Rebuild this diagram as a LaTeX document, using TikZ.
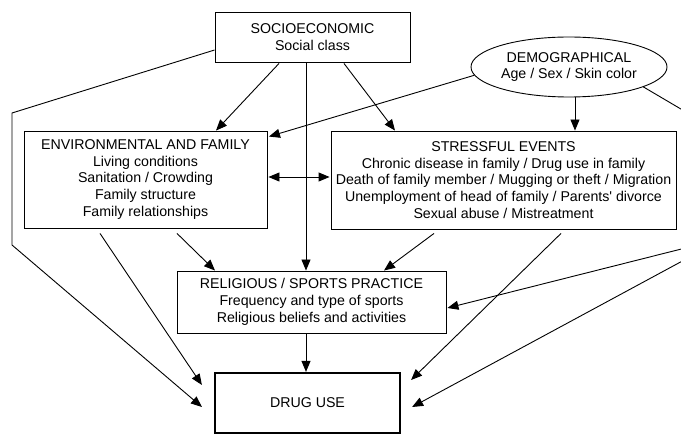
\documentclass[tikz,border=0pt]{standalone}
\usepackage{fontspec}
\setmainfont{Liberation Sans}
\usetikzlibrary{arrows.meta, calc, shapes.geometric}

\tikzset{
  factor/.style={draw, line width=0.9pt, align=center, inner sep=0pt,
    font=\fontsize{14.2}{16.7}\selectfont},
  outcome/.style={factor, line width=2.2pt},
  link/.style={line width=0.9pt, -{Triangle[length=11pt, width=9pt]}},
  bothway/.style={line width=0.9pt,
    {Triangle[length=11pt, width=9pt]}-{Triangle[length=11pt, width=9pt]}},
}

\begin{document}
\begin{tikzpicture}[x=1pt, y=-1pt]

  \useasboundingbox (0, 0) rectangle (681, 435);

  \node[factor, minimum width=195pt, minimum height=50pt] (socio) at (312.5, 37)
    {SOCIOECONOMIC\\Social class};
  \node[factor, ellipse, minimum width=196pt, minimum height=60pt] (demo) at (569, 67)
    {DEMOGRAPHICAL\\Age / Sex / Skin color};
  \node[factor, minimum width=243pt, minimum height=97pt] (env) at (145.5, 179.5)
    {ENVIRONMENTAL AND FAMILY\\Living conditions\\Sanitation / Crowding\\Family structure\\Family relationships};
  \node[factor, minimum width=345pt, minimum height=98pt] (stress) at (503.5, 180)
    {STRESSFUL EVENTS\\Chronic disease in family / Drug use in family\\Death of family member / Mugging or theft / Migration\\Unemployment of head of family / Parents\textquotesingle{} divorce\\Sexual abuse / Mistreatment};
  \node[factor, minimum width=269pt, minimum height=62pt] (rel) at (311.5, 302)
    {RELIGIOUS / SPORTS PRACTICE\\Frequency and type of sports\\Religious beliefs and activities};
  \node[outcome, minimum width=185pt, minimum height=60pt] (drug) at (307.5, 403)
    {DRUG USE};

  \coordinate (bendA) at (12, 113);
  \coordinate (bendB) at (12, 245);
  \coordinate (offA) at (725, 135);
  \coordinate (offB) at (725, 238);

  \draw[link] ($(socio.south)+(-33.5,1)$) -- ($(env.north)+(70.5,0)$);
  \draw[link] ($(socio.south)+(31.5,1)$) -- ($(stress.north)+(-108.5,0)$);
  \draw[link] ($(socio.south)+(-6.5,0)$) -- ($(rel.north)+(-5.5,0)$);
  \draw[link] ($(socio.west)+(0,13)$) -- (bendA) -- (bendB) -- ($(drug.west)+(-12,4)$);

  \draw[link] (demo.185) -- ($(env.north east)+(1.5,6)$);
  \draw[link] ($(demo.south)+(6,0)$) -- ($(stress.north)+(71.5,0)$);

  \draw[bothway] ($(env.east)+(1,-2.5)$) -- ($(stress.west)+(-1,-3)$);

  \draw[link] ($(env.south)+(-45.5,5)$) -- ($(drug.west)+(-12,-18)$);
  \draw[link] ($(env.south)+(31.5,5)$) -- ($(rel.north)+(-96.5,0)$);
  \draw[link] ($(stress.south)+(-69.5,4)$) -- ($(rel.north)+(72.5,0)$);
  \draw[link] ($(stress.south)+(57.5,4)$) -- ($(drug.east)+(10,-23)$);
  \draw[link] ($(rel.south)+(-5.5,0)$) -- ($(drug.north)+(-1.5,0)$);

  % the demographic links leave the frame on the right
  \begin{scope}
    \clip (0, 0) rectangle (681, 435);
    \draw[line width=0.9pt] (demo.-15) -- (offA) -- (offB);
    \draw[link] (offB) -- ($(rel.east)+(1,6)$);
    \draw[link] (offB) -- ($(drug.east)+(11,4)$);
  \end{scope}

\end{tikzpicture}
\end{document}
